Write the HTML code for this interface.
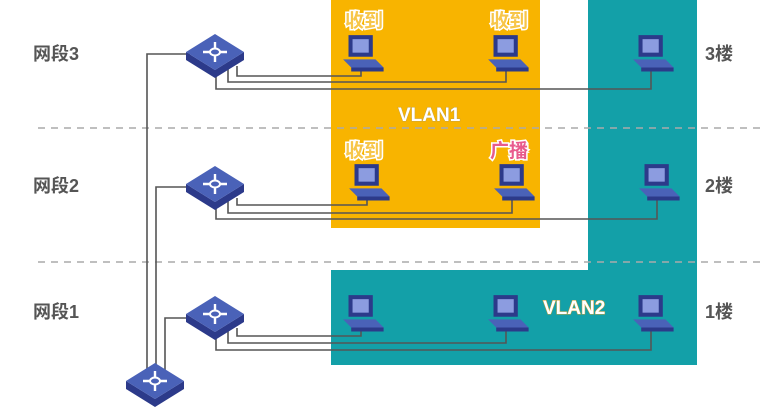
<!DOCTYPE html>
<html><head><meta charset="utf-8"><style>
html,body{margin:0;padding:0;background:#fff;}
svg{display:block;}
.seg{font-family:"Liberation Sans","Noto Sans CJK SC",sans-serif;font-weight:bold;font-size:18px;fill:#555;}
.lbl{font-family:"Liberation Sans","Noto Sans CJK SC",sans-serif;font-weight:bold;font-size:19px;stroke:#fff;stroke-width:3px;paint-order:stroke;}
.vl{font-family:"Liberation Sans",sans-serif;font-weight:bold;font-size:19px;fill:#fff;stroke:#c9a23a;stroke-width:1px;paint-order:stroke;}
</style></head><body>
<svg width="760" height="411" viewBox="0 0 760 411" xmlns="http://www.w3.org/2000/svg">
<defs>
<g id="sw">
 <polygon points="-29,4 0,22 29,4 29,12 0,30 -29,12" fill="#2c3a8a"/>
 <polygon points="0,-14 29,4 0,22 -29,4" fill="#4a62b8"/>
 <g stroke="#fff" stroke-width="2.4" fill="none">
  <line x1="-12" y1="4" x2="12" y2="4"/><line x1="0" y1="-6" x2="0" y2="14"/>
 </g>
 <ellipse cx="0" cy="4" rx="5" ry="3.5" fill="#4a62b8" stroke="#fff" stroke-width="2"/>
</g>
<g id="pc0">
 <polygon points="-10,-14 8,-14 8,2 -10,2" fill="#2c3a8a"/>
 <rect x="-7" y="-11" width="12" height="10" fill="#8c9ce0"/>
 <polygon points="-14,4 10,4 16,10 -8,10" fill="#4a62b8"/>
 <polygon points="-8,10 16,10 16,13 -8,13" fill="#2c3a8a"/>
</g>
<g id="pc"><use href="#pc0" transform="translate(0,-2) scale(1.35)"/></g>
</defs>
<rect x="331" y="0" width="209" height="228" fill="#f8b400"/>
<rect x="588" y="0" width="109" height="365" fill="#13a0a8"/>
<rect x="331" y="270" width="366" height="95" fill="#13a0a8"/>
<g stroke="#aaa" stroke-width="1.5" stroke-dasharray="7,6">
<line x1="38" y1="128" x2="760" y2="128"/><line x1="38" y1="262" x2="760" y2="262"/>
</g>
<g stroke="#555" stroke-width="1.6" fill="none">
<polyline points="147,372 147,54 190,54"/>
<polyline points="156,372 156,187 190,187"/>
<polyline points="165,372 165,318 190,318"/>
<polyline points="237,66 237,76 361,76 361,66"/>
<polyline points="228,68 228,82 506,82 506,66"/>
<polyline points="216,72 216,89 651,89 651,66"/>
<polyline points="237,198 237,205 367,205 367,195"/>
<polyline points="228,200 228,213 512,213 512,195"/>
<polyline points="216,204 216,219 657,219 657,195"/>
<polyline points="237,328 237,336 361,336 361,326"/>
<polyline points="228,330 228,343 506,343 506,326"/>
<polyline points="216,334 216,350 651,350 651,326"/>
</g>
<use href="#sw" x="215" y="48"/>
<use href="#sw" x="215" y="180"/>
<use href="#sw" x="215" y="310"/>
<use href="#sw" x="155" y="377"/>
<use href="#pc" x="362" y="56"/><use href="#pc" x="507" y="56"/><use href="#pc" x="652" y="56"/>
<use href="#pc" x="368" y="185"/><use href="#pc" x="513" y="185"/><use href="#pc" x="658" y="185"/>
<use href="#pc" x="362" y="316"/><use href="#pc" x="507" y="316"/><use href="#pc" x="652" y="316"/>
<text class="seg" x="33" y="60">网段3</text>
<text class="seg" x="33" y="192">网段2</text>
<text class="seg" x="33" y="318">网段1</text>
<text class="seg" x="705" y="60">3楼</text>
<text class="seg" x="705" y="192">2楼</text>
<text class="seg" x="705" y="318">1楼</text>
<text class="lbl" x="345" y="27" fill="#f7c64a">收到</text>
<text class="lbl" x="490" y="27" fill="#f7c64a">收到</text>
<text class="lbl" x="345" y="157" fill="#f7c64a">收到</text>
<text class="lbl" x="490" y="157" fill="#e85a8c">广播</text>
<text class="vl" x="398" y="121">VLAN1</text>
<text class="vl" x="543" y="314">VLAN2</text>
</svg>
</body></html>
